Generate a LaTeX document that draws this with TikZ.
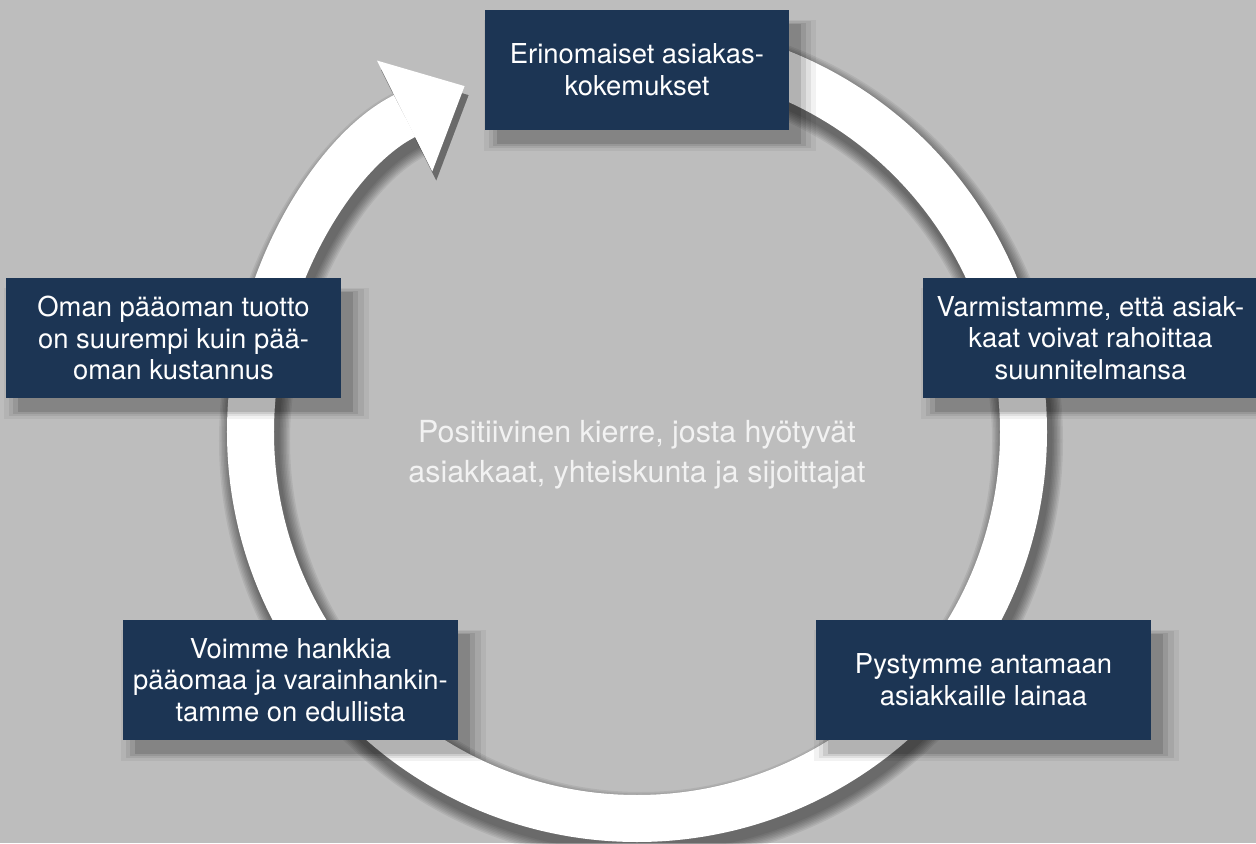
\documentclass[tikz,border=0pt]{standalone}
\usepackage{fontspec}
\setmainfont{TeX Gyre Heros}
\usepackage{tikz}
\usepackage{xcolor}
\usetikzlibrary{arrows.meta, shadows}
\definecolor{bggrey}{RGB}{189,189,189}
\definecolor{boxblue}{RGB}{28,53,84}
\definecolor{softwhite}{RGB}{242,242,242}
\tikzset{
    stage/.style={fill=boxblue, text=white, align=center, inner sep=0pt,
        minimum width=6.7cm, minimum height=2.4cm,
        font=\fontsize{15.6}{18}\selectfont,
        drop shadow={shadow xshift=0.24cm, shadow yshift=-0.28cm, fill=black, opacity=0.05, shadow scale=1.09},
        drop shadow={shadow xshift=0.24cm, shadow yshift=-0.28cm, fill=black, opacity=0.07, shadow scale=1.06},
        drop shadow={shadow xshift=0.24cm, shadow yshift=-0.28cm, fill=black, opacity=0.09, shadow scale=1.03},
        drop shadow={shadow xshift=0.24cm, shadow yshift=-0.28cm, fill=black, opacity=0.12, shadow scale=1.0}},
    ring/.style={line width=0.94cm, -{Triangle[length=1.34cm, width=2.48cm, line width=0pt]}}
}

\begin{document}
\begin{tikzpicture}
                        \useasboundingbox (-12.74, -8.22) rectangle (12.38, 8.64);
                        \fill[bggrey] (-12.74, -8.22) rectangle (12.38, 8.64);

                        \foreach \k in {1,...,8}
                            \draw[ring, black, opacity=0.065, line width=0.94cm+\k*0.06cm, xshift=0.08cm, yshift=-0.18cm]
                            (90:7.73) arc[start angle=90, end angle=-243.5, radius=7.73];
                        \draw[ring, white] (90:7.73) arc[start angle=90, end angle=-243.5, radius=7.73];

                        \node[stage, minimum width=6.08cm] (top) at (0, 7.24) {Erinomaiset asiakas-\\kokemukset};
                        \node[stage] (right) at (9.07, 1.88) {Varmistamme, että asiak-\\kaat voivat rahoittaa\\suunnitelmansa};
                        \node[stage] (lowright) at (6.93, -4.96) {Pystymme antamaan\\asiakkaille lainaa};
                        \node[stage] (lowleft) at (-6.93, -4.96) {Voimme hankkia\\pääomaa ja varainhankin-\\tamme on edullista};
                        \node[stage] (left) at (-9.27, 1.88) {Oman pääoman tuotto\\on suurempi kuin pää-\\oman kustannus};

                        \node[text=softwhite, align=center, font=\fontsize{17.3}{22.7}\selectfont] (centre) at (0, -0.46)
                        {Positiivinen kierre, josta hyötyvät\\asiakkaat, yhteiskunta ja sijoittajat};
                    \end{tikzpicture}
\end{document}
